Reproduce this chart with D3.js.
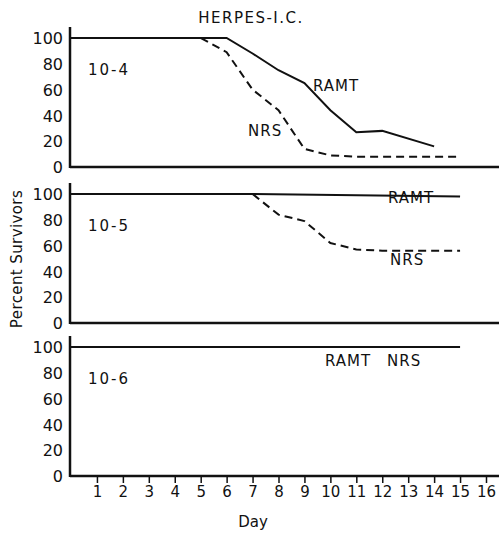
<!DOCTYPE html>
<html>
<head>
<meta charset="utf-8">
<script src="https://cdn.jsdelivr.net/npm/d3@7"></script>
<style>
    body { margin: 0; background: #fff; }
    svg text { font-family: "DejaVu Sans", sans-serif; fill: #111; }
    .line { fill: none; stroke: #111; stroke-width: 2; }
    .line.nrs { stroke-dasharray: 8 5; }
</style>
</head>
<body>
<svg id="chart" width="499" height="534"></svg>
<script>
const dayTicks = [1, 2, 3, 4, 5, 6, 7, 8, 9, 10, 11, 12, 13, 14, 15, 16];
const percentTicks = [0, 20, 40, 60, 80, 100];
const doseLabels = ["10-4", "10-5", "10-6"];

// panel 10-4
const ramt4Days = [0, 6, 7, 8, 9, 10, 11, 12, 14];
const ramt4Vals = [100, 100, 88, 75, 65, 44, 27, 28, 16];
const nrs4Days = [0, 5, 6, 7, 8, 9, 10, 11, 12, 13, 14, 15];
const nrs4Vals = [100, 100, 89, 60, 44, 14, 9, 8, 8, 8, 8, 8];

// panel 10-5
const ramt5Days = [0, 7, 15];
const ramt5Vals = [100, 100, 98];
const nrs5Days = [0, 7, 8, 9, 10, 11, 12, 13, 14, 15];
const nrs5Vals = [100, 100, 84, 79, 62, 57, 56, 56, 56, 56];

// panel 10-6
const ramt6Days = [0, 15];
const ramt6Vals = [100, 100];
const nrs6Days = [0, 15];
const nrs6Vals = [100, 100];

const panels = [
    { bottom: 167, ramt: [ramt4Days, ramt4Vals], nrs: [nrs4Days, nrs4Vals],
      labels: [{ t: "RAMT", x: 313, y: 91 }, { t: "NRS", x: 248, y: 136 }] },
    { bottom: 323, ramt: [ramt5Days, ramt5Vals], nrs: [nrs5Days, nrs5Vals],
      labels: [{ t: "RAMT", x: 388, y: 203 }, { t: "NRS", x: 390, y: 265 }] },
    { bottom: 476, ramt: [ramt6Days, ramt6Vals], nrs: [nrs6Days, nrs6Vals],
      labels: [{ t: "RAMT", x: 325, y: 366 }, { t: "NRS", x: 387, y: 366 }] },
];

const svg = d3.select("#chart");
const x = d3.scaleLinear().domain([0, 16]).range([71, 486]);
const axisLeftX = 70;

panels.forEach((p, i) => {
    const y = d3.scaleLinear().domain([0, 100]).range([p.bottom, p.bottom - 129]);
    const g = svg.append("g").attr("class", "panel");

    // y axis
    const ya = g.append("g")
        .attr("transform", `translate(${axisLeftX},0)`)
        .call(d3.axisLeft(y).tickValues(percentTicks).tickSize(0).tickPadding(7));
    ya.select(".domain").remove();
    ya.selectAll(".tick text").style("font-size", "16px").attr("dy", "0.36em");
    g.append("line")
        .attr("x1", axisLeftX).attr("x2", axisLeftX)
        .attr("y1", y(100) - 11).attr("y2", p.bottom + 1)
        .attr("stroke", "#111").attr("stroke-width", 2.5);

    // x axis, ticks only on the bottom panel
    if (i === 2) {
        const xa = g.append("g")
            .attr("transform", `translate(0,${p.bottom})`)
            .call(d3.axisBottom(x).tickValues(dayTicks).tickSize(7).tickPadding(3).tickSizeOuter(0));
        xa.select(".domain").remove();
        xa.selectAll(".tick line").attr("stroke", "#111").attr("stroke-width", 1.5);
        xa.selectAll(".tick text").style("font-size", "15px");
    }
    g.append("line")
        .attr("x1", axisLeftX).attr("x2", 499)
        .attr("y1", p.bottom).attr("y2", p.bottom)
        .attr("stroke", "#111").attr("stroke-width", 2.5);

    const line = d3.line().x(d => x(d[0])).y(d => y(d[1]));

    g.append("path")
        .attr("class", "line nrs")
        .attr("d", line(d3.zip(p.nrs[0], p.nrs[1])));
    g.append("path")
        .attr("class", "line ramt")
        .attr("d", line(d3.zip(p.ramt[0], p.ramt[1])));

    g.append("text").text(doseLabels[i])
        .attr("x", 88).attr("y", y(100) + 37)
        .style("font-size", "15px")
        .style("letter-spacing", "2px");

    g.selectAll(".series-label")
        .data(p.labels)
        .join("text")
        .attr("class", "series-label")
        .attr("x", d => d.x).attr("y", d => d.y)
        .style("font-size", "15px")
        .style("letter-spacing", "1px")
        .text(d => d.t);
});

svg.append("text").text("HERPES-I.C.")
    .attr("x", 251).attr("y", 23)
    .attr("text-anchor", "middle")
    .style("font-size", "15px")
    .style("letter-spacing", "1.5px");

svg.append("text").text("Day")
    .attr("x", 253).attr("y", 527)
    .attr("text-anchor", "middle")
    .style("font-size", "15px");

svg.append("text").text("Percent Survivors")
    .attr("transform", "translate(22,259) rotate(-90)")
    .attr("text-anchor", "middle")
    .style("font-size", "15px")
    .style("letter-spacing", "0.4px");
</script>
</body>
</html>
